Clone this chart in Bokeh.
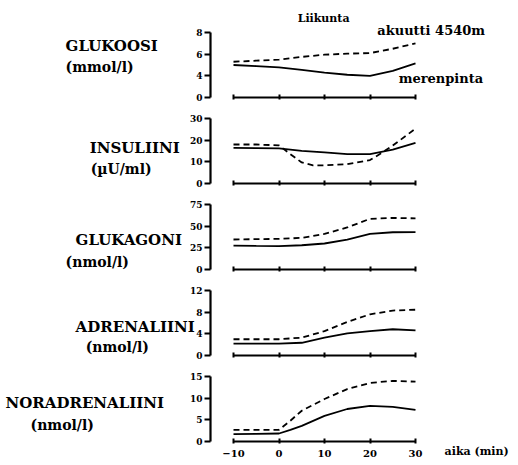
from bokeh.plotting import figure
from bokeh.models import Range1d, FixedTicker, Label, CustomLabelingPolicy
from bokeh.layouts import column
from bokeh.embed import file_html
from bokeh.resources import INLINE

# ---- data ----
TIME = [-10, -5, 0, 5, 10, 15, 20, 25, 30]
X_TICKS = [-10, 0, 10, 20, 30]

GLU_SEA = [5.0, 4.9, 4.78, 4.55, 4.3, 4.1, 4.0, 4.45, 5.15]
GLU_ALT = [5.3, 5.4, 5.5, 5.75, 5.95, 6.05, 6.1, 6.5, 7.0]

INS_SEA = [16.4, 16.3, 16.2, 15.1, 14.4, 13.6, 13.6, 15.6, 18.8]
INS_TIME_ALT = [-10, -5, 0, 2.5, 5, 7.5, 10, 15, 20, 22.5, 25, 30]
INS_ALT = [18, 18, 17.6, 13.5, 9.7, 8.4, 8.4, 8.9, 10.8, 14.0, 17.5, 25.3]

GLUK_SEA = [27.5, 27.2, 27, 28, 30, 34.6, 41, 43, 43.2]
GLUK_ALT = [34.6, 35, 35.3, 36.5, 41, 48.5, 58.5, 59.5, 59]

ADR_SEA = [2.2, 2.2, 2.2, 2.35, 3.3, 4.1, 4.5, 4.85, 4.65]
ADR_ALT = [3.0, 3.0, 3.0, 3.3, 4.5, 6.2, 7.6, 8.3, 8.45]

NOR_TIME = [-10, -5, 0, 2.5, 5, 10, 15, 20, 25, 30]
NOR_SEA = [1.7, 1.75, 1.85, 2.7, 3.6, 5.9, 7.5, 8.2, 8.0, 7.3]
NOR_ALT = [2.7, 2.7, 2.7, 4.8, 7.1, 9.8, 12.1, 13.5, 14.0, 13.8]

FONT = "DejaVu Serif"
W = 518
PX_PER_MIN = 4.55        # horizontal scale
X_LEFT_PX = 233          # pixel of t = -10
Y_AXIS_PX = 210          # pixel of the vertical axes
PANEL_H = 65             # height of each data band

X0 = -10 - X_LEFT_PX / PX_PER_MIN
X1 = -10 + (W - X_LEFT_PX) / PX_PER_MIN
Y_AXIS_AT = -10 - (X_LEFT_PX - Y_AXIS_PX) / PX_PER_MIN


def make_panel(ymin, ymax, yticks, top, bottom, show_x, overrides=None):
    u = (ymax - ymin) / PANEL_H
    p = figure(width=W, height=top + PANEL_H + bottom,
               x_range=Range1d(X0, X1),
               y_range=Range1d(ymin - bottom * u, ymax + top * u),
               output_backend="svg", toolbar_location=None,
               min_border_left=0, min_border_right=0,
               min_border_top=0, min_border_bottom=0)
    p.outline_line_color = None
    p.xgrid.visible = False
    p.ygrid.visible = False
    p.background_fill_color = "white"
    p.border_fill_color = "white"

    ya = p.yaxis[0]
    ya.fixed_location = Y_AXIS_AT
    ya.ticker = FixedTicker(ticks=yticks)
    ya.bounds = (ymin, ymax)
    ya.axis_line_width = 2.2
    ya.major_tick_line_width = 2
    ya.major_tick_out = 6
    ya.major_tick_in = 0
    ya.minor_tick_out = 0
    ya.minor_tick_in = 0
    ya.major_label_standoff = 2
    ya.major_label_text_font = FONT
    ya.major_label_text_font_style = "bold"
    ya.major_label_text_font_size = "9px"
    ya.major_label_text_color = "black"
    if overrides:
        ya.major_label_overrides = overrides

    xa = p.xaxis[0]
    xa.fixed_location = ymin
    xa.ticker = FixedTicker(ticks=X_TICKS)
    xa.bounds = (-10, 30)
    xa.axis_line_width = 2.2
    xa.major_tick_line_width = 2
    xa.major_tick_out = 2
    xa.major_tick_in = 3
    xa.minor_tick_out = 0
    xa.minor_tick_in = 0
    xa.major_label_text_font = FONT
    xa.major_label_text_font_style = "bold"
    xa.major_label_text_color = "black"
    xa.major_label_standoff = 6
    xa.major_label_text_font_size = "10px"
    if not show_x:
        xa.major_label_policy = CustomLabelingPolicy(code="return []")
    return p


def add_lines(p, xs, sea, xs_alt, alt):
    p.line(xs, sea, line_color="black", line_width=1.8)
    p.line(xs_alt, alt, line_color="black", line_width=1.8, line_dash="6 4")


def add_label(p, x, y, text, size="14px", align="left"):
    p.add_layout(Label(x=x, y=y, text=text, text_font=FONT, text_font_style="bold",
                       text_font_size=size, text_baseline="middle", text_align=align,
                       text_color="black"))


# Panel 1: glucose (axis broken: bottom tick labelled 0)
p1 = make_panel(2, 8, [2, 4, 6, 8], 32, 13, False, {2: "0"})
add_lines(p1, TIME, GLU_SEA, TIME, GLU_ALT)
add_label(p1, -46.9, 6.8, "GLUKOOSI", "15px")
add_label(p1, -46.9, 4.77, "(mmol/l)")
add_label(p1, 4.1, 9.29, "Liikunta", "11px")
add_label(p1, 21.6, 8.18, "akuutti 4540m", "13px")
add_label(p1, 26.3, 3.75, "merenpinta", "13px")

# Panel 2: insulin
p2 = make_panel(0, 30, [0, 10, 20, 30], 8, 13, False)
add_lines(p2, TIME, INS_SEA, INS_TIME_ALT, INS_ALT)
add_label(p2, -41.6, 16.6, "INSULIINI", "15px")
add_label(p2, -41.4, 6.9, "(µU/ml)")

# Panel 3: glucagon
p3 = make_panel(0, 75, [0, 25, 50, 75], 8, 13, False)
add_lines(p3, TIME, GLUK_SEA, TIME, GLUK_ALT)
add_label(p3, -44.7, 33.5, "GLUKAGONI", "15px")
add_label(p3, -46.9, 9.2, "(nmol/l)")

# Panel 4: adrenaline
p4 = make_panel(0, 12, [0, 4, 8, 12], 8, 13, False)
add_lines(p4, TIME, ADR_SEA, TIME, ADR_ALT)
add_label(p4, -44.7, 5.35, "ADRENALIINI", "15px")
add_label(p4, -42.5, 1.66, "(nmol/l)")

# Panel 5: noradrenaline
p5 = make_panel(0, 15, [0, 5, 10, 15], 8, 24, True)
add_lines(p5, NOR_TIME, NOR_SEA, NOR_TIME, NOR_ALT)
add_label(p5, -60.1, 9.0, "NORADRENALIINI", "15px")
add_label(p5, -54.6, 3.92, "(nmol/l)")
add_label(p5, 36.4, -2.3, "aika (min)", "11px")

layout = column(p1, p2, p3, p4, p5, spacing=0)
open("out.html", "w").write(file_html(layout, INLINE))
